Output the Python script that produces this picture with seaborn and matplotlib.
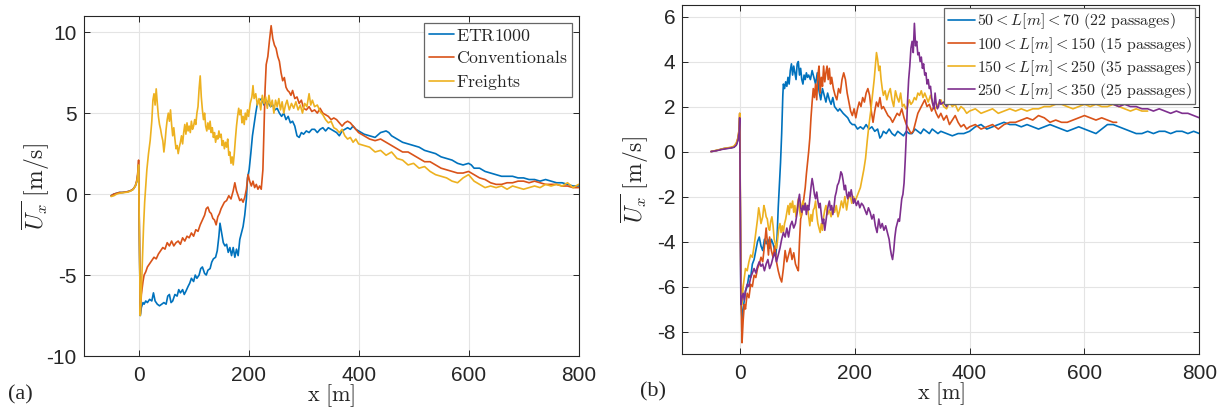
import numpy as np
import pandas as pd
import matplotlib
matplotlib.use("Agg")
import matplotlib.pyplot as plt
import seaborn as sns

# ---------------- data: panel (a) ----------------
pre_x = [-50, -45, -40, -35, -30, -25, -20, -15, -10, -6, -3, -1, 0]

etr_x = pre_x + [3, 5, 8, 10, 13, 16, 20, 24, 27, 30, 34, 38, 42, 46, 50, 53, 56, 59, 62, 66, 70, 73, 76, 80, 83, 86, 90, 93, 96, 100,
                 103, 106, 110, 113, 116, 120, 123, 126, 130, 133, 136, 140, 143, 146, 148, 151, 154, 157, 160, 163, 166, 169, 172, 175,
                 178, 181, 184, 187, 190, 193, 196, 198, 201, 204, 207, 210, 213, 216, 220, 224, 228, 232, 236, 240, 244, 248, 252, 256,
                 260, 264, 268, 272, 276, 280, 284, 288, 292, 296, 300, 305, 310, 315, 320, 325, 330, 335, 340, 345, 350, 355, 360, 365,
                 370, 375, 380, 385, 390, 395, 400, 410, 420, 430, 440, 450, 455, 460, 470, 480, 490, 500, 510, 520, 530, 540, 550, 560,
                 570, 580, 590, 600, 605, 610, 620, 630, 640, 650, 660, 670, 680, 690, 700, 710, 720, 730, 740, 750, 760, 770, 780, 790, 800]
etr_y = [-0.1, 0.0, 0.05, 0.1, 0.1, 0.12, 0.15, 0.2, 0.3, 0.5, 0.8, 1.3, 1.8,
         -7.5, -7.0, -6.7, -6.8, -6.6, -6.7, -6.5, -6.6, -6.1, -6.6, -6.8, -6.9, -6.8, -6.7, -6.8, -6.3, -6.2, -6.7, -6.6, -6.2, -6.3,
         -5.9, -6.1, -5.9, -6.2, -6.0, -5.7, -5.5, -5.2, -5.4, -5.0, -5.2, -5.0, -4.6, -4.5, -4.9, -5.0, -4.7, -4.6, -4.2, -4.0, -3.9,
         -3.5, -2.6, -1.8, -2.4, -3.0, -3.2, -3.1, -3.6, -3.3, -3.8, -3.3, -3.9, -3.4, -3.8, -2.8, -2.4, -2.0, -1.3, -0.3, 1.0, 1.5,
         2.5, 3.6, 4.3, 5.0, 5.6, 5.8, 5.9, 5.5, 5.8, 5.6, 5.4, 5.5, 5.2, 5.3, 5.0, 4.8, 5.0, 4.6, 4.8, 4.4, 4.5, 4.2, 3.6, 3.5, 3.8,
         3.7, 3.9, 3.8, 4.0, 4.0, 3.8, 4.0, 4.1, 3.9, 4.1, 4.0, 3.9, 3.8, 3.6, 3.9, 4.0, 4.1, 4.0, 4.2, 4.0, 3.9, 3.7, 3.6, 3.5, 3.8,
         3.9, 3.8, 3.6, 3.4, 3.2, 3.1, 3.0, 2.9, 2.7, 2.6, 2.5, 2.3, 2.2, 2.1, 1.9, 1.8, 1.9, 1.8, 1.6, 1.6, 1.4, 1.3, 1.2, 1.1, 1.1,
         1.1, 1.0, 1.0, 0.9, 0.9, 0.8, 0.9, 0.8, 0.7, 0.7, 0.6, 0.5, 0.5]

conv_x = pre_x + [3, 5, 8, 10, 13, 16, 20, 24, 28, 32, 36, 40, 44, 48, 52, 56, 60, 64, 68, 72, 76, 80, 84, 88, 92, 96, 100, 104, 108,
                  112, 116, 120, 123, 126, 129, 132, 135, 138, 141, 144, 147, 150, 153, 156, 160, 164, 168, 172, 175, 178, 181, 184,
                  187, 190, 193, 196, 199, 202, 205, 208, 211, 214, 217, 220, 223, 226, 228, 230, 232, 235, 238, 241, 244, 247, 250,
                  253, 256, 259, 262, 265, 268, 271, 274, 277, 280, 284, 288, 292, 296, 300, 305, 310, 315, 320, 325, 330, 335, 340,
                  345, 350, 355, 360, 365, 370, 375, 380, 385, 390, 395, 400, 410, 420, 430, 440, 450, 460, 470, 480, 490, 500, 510,
                  520, 530, 540, 550, 560, 570, 580, 590, 600, 610, 620, 630, 640, 650, 660, 670, 680, 690, 700, 710, 720, 730, 740,
                  750, 760, 770, 780, 790, 800]
conv_y = [-0.1, 0.0, 0.05, 0.1, 0.1, 0.12, 0.15, 0.2, 0.3, 0.5, 0.9, 1.5, 2.1,
          -7.4, -6.2, -5.4, -5.0, -4.8, -4.5, -4.3, -4.1, -3.9, -4.0, -3.7, -3.5, -3.3, -3.4, -3.0, -3.2, -2.9, -3.2, -3.0, -2.9,
          -3.1, -2.7, -2.9, -2.6, -2.7, -2.4, -2.6, -2.2, -2.3, -1.9, -1.6, -1.3, -0.9, -0.8, -1.1, -1.2, -1.5, -1.6, -1.9, -1.4,
          -1.2, -0.9, -0.7, -0.5, -0.4, -0.1, -0.3, 0.2, 0.7, 0.2, -0.1, -0.4, -0.3, -0.5, -0.2, 0.3, 1.2, 0.8, 0.5, 0.8, 0.4, 0.6,
          0.3, 0.5, 0.3, 1.5, 4.0, 6.5, 8.0, 8.5, 9.5, 10.4, 9.6, 9.2, 9.0, 8.5, 8.2, 7.5, 7.0, 7.2, 6.6, 6.4, 6.3, 6.1, 6.4, 5.9,
          6.0, 5.6, 5.8, 5.3, 5.2, 5.4, 5.1, 5.2, 5.0, 5.3, 5.0, 4.9, 4.8, 4.6, 4.7, 4.6, 4.4, 4.2, 4.4, 4.5, 4.4, 4.2, 4.0, 3.8,
          3.6, 3.4, 3.3, 3.4, 3.2, 3.0, 2.8, 2.6, 2.6, 2.4, 2.2, 2.0, 2.0, 1.8, 1.6, 1.5, 1.4, 1.3, 1.3, 1.4, 1.2, 1.0, 0.9, 0.7,
          0.6, 0.6, 0.7, 0.7, 0.8, 0.8, 0.7, 0.8, 0.7, 0.6, 0.6, 0.6, 0.5, 0.5, 0.4, 0.4]

frt_x = pre_x + [3, 5, 7, 9, 11, 13, 15, 18, 21, 24, 26, 28, 30, 32, 34, 36, 38, 40, 42, 44, 46, 48, 50, 52, 54, 56, 58, 60, 62, 64,
                 66, 68, 70, 72, 74, 76, 78, 80, 82, 84, 86, 88, 90, 92, 94, 96, 98, 100, 102, 104, 106, 108, 110, 112, 114, 116,
                 118, 120, 122, 124, 126, 128, 130, 132, 134, 136, 138, 140, 142, 144, 146, 148, 150, 152, 154, 156, 158, 160, 162,
                 164, 166, 168, 170, 172, 174, 176, 178, 180, 182, 184, 186, 188, 190, 192, 194, 196, 198, 200, 203, 206, 208, 210,
                 213, 216, 219, 222, 225, 228, 231, 234, 237, 240, 243, 246, 249, 252, 255, 258, 261, 264, 267, 270, 274, 278, 282,
                 286, 290, 294, 298, 302, 306, 310, 313, 316, 320, 325, 330, 335, 340, 345, 350, 355, 360, 365, 370, 375, 380, 385,
                 390, 395, 400, 410, 420, 430, 440, 450, 460, 470, 480, 490, 500, 510, 520, 530, 540, 550, 560, 570, 580, 590, 600,
                 610, 620, 630, 640, 650, 660, 670, 680, 690, 700, 710, 720, 730, 740, 750, 760, 770, 780, 790, 800]
frt_y = [-0.15, -0.1, 0.0, 0.05, 0.08, 0.1, 0.12, 0.18, 0.28, 0.5, 0.8, 1.3, 1.8,
         -7.5, -6.0, -4.0, -2.0, -0.5, 0.5, 1.5, 2.5, 3.3, 4.5, 5.8, 6.2, 5.5, 6.5, 5.6, 4.8, 4.3, 4.0, 3.6, 3.3, 2.6, 3.2, 4.0,
         4.6, 5.0, 4.5, 5.2, 4.3, 3.6, 4.1, 3.4, 2.8, 3.0, 2.5, 2.9, 3.2, 3.6, 3.1, 3.8, 4.3, 3.7, 4.4, 3.9, 4.2, 3.8, 4.5, 4.0,
         4.2, 4.6, 4.3, 5.0, 5.4, 6.5, 7.3, 6.0, 5.2, 4.6, 5.0, 4.2, 3.9, 4.4, 4.0, 4.5, 3.8, 4.1, 3.5, 3.8, 3.2, 3.6, 3.4, 3.9,
         3.5, 3.7, 3.0, 3.3, 2.8, 3.2, 2.9, 3.4, 2.4, 2.6, 1.9, 2.3, 1.8, 2.5, 3.4, 4.2, 4.8, 5.3, 4.9, 5.2, 4.4, 4.8, 4.3, 5.0,
         4.6, 5.2, 4.8, 5.6, 6.0, 6.7, 5.9, 6.2, 5.5, 5.9, 5.2, 6.1, 5.6, 6.0, 5.3, 6.1, 5.4, 5.8, 5.0, 5.8, 5.4, 5.9, 5.2, 5.7,
         5.0, 5.5, 5.8, 5.2, 5.6, 5.3, 5.7, 5.2, 5.5, 5.0, 5.6, 5.4, 6.2, 5.5, 5.8, 5.4, 5.5, 5.1, 4.9, 4.6, 4.4, 4.5, 4.1, 4.0,
         3.8, 4.0, 3.6, 3.4, 3.5, 3.2, 3.4, 3.1, 3.0, 2.9, 2.6, 2.7, 2.4, 2.6, 2.2, 2.1, 1.8, 1.9, 1.6, 1.7, 1.4, 1.2, 1.1, 1.0,
         0.8, 0.7, 1.0, 1.2, 0.8, 0.6, 0.4, 0.5, 0.4, 0.5, 0.3, 0.5, 0.4, 0.3, 0.4, 0.5, 0.4, 0.6, 0.5, 0.6, 0.5, 0.7, 0.4, 0.6]

labels_a = ["ETR1000", "Conventionals", "Freights"]

# ---------------- data: panel (b) ----------------
preb_x = [-50, -45, -40, -35, -30, -25, -20, -15, -10, -6, -3, -1, 0]

l1_x = preb_x + [2, 4, 7, 10, 13, 16, 19, 22, 25, 28, 31, 34, 37, 40, 43, 46, 49, 52, 55, 58, 61, 63, 65, 67, 69, 71, 73, 75, 76,
                 78, 80, 82, 84, 86, 88, 90, 92, 94, 96, 98, 100, 102, 104, 106, 108, 110, 112, 114, 116, 118, 120, 123, 126, 129,
                 132, 135, 138, 141, 144, 147, 150, 153, 156, 159, 162, 165, 168, 171, 174, 177, 180, 184, 188, 192, 196, 200, 205,
                 210, 215, 220, 225, 230, 235, 240, 244, 247, 250, 255, 260, 265, 270, 275, 280, 285, 290, 295, 300, 305, 310, 315,
                 320, 325, 330, 335, 340, 345, 350, 360, 370, 380, 390, 400, 410, 420, 430, 440, 450, 460, 470, 480, 490, 500, 510,
                 520, 530, 540, 550, 560, 570, 580, 590, 600, 610, 620, 630, 640, 650, 660, 670, 680, 690, 700, 710, 720, 730, 740,
                 750, 760, 770, 780, 790, 800]
l1_y = [0.0, 0.02, 0.05, 0.08, 0.12, 0.14, 0.15, 0.17, 0.2, 0.3, 0.55, 0.9, 1.5,
        -6.5, -7.5, -6.8, -6.2, -6.0, -5.5, -5.6, -5.0, -4.8, -4.4, -4.0, -3.8, -4.2, -4.4, -3.9, -4.1, -3.9, -4.3, -3.9, -4.1,
        -4.4, -4.6, -3.8, -2.5, -1.5, -0.5, 0.8, 2.5, 3.0, 2.8, 3.1, 2.9, 3.3, 3.0, 3.6, 3.9, 3.4, 3.8, 3.5, 3.2, 3.9, 4.0, 3.4,
        3.7, 3.2, 3.0, 3.4, 3.2, 3.5, 3.3, 3.4, 3.2, 3.6, 3.3, 3.0, 3.5, 2.7, 2.3, 2.8, 2.5, 2.2, 2.6, 2.3, 2.1, 2.4, 2.0, 1.9,
        1.8, 1.9, 1.8, 1.7, 1.6, 1.5, 1.3, 1.2, 1.2, 1.0, 1.1, 1.0, 1.2, 1.0, 1.1, 0.9, 1.0, 0.6, 0.7, 0.9, 0.8, 1.0, 0.8, 0.7,
        0.9, 0.8, 0.7, 0.9, 0.8, 0.8, 1.0, 0.9, 0.8, 1.0, 0.9, 0.8, 1.0, 0.9, 0.8, 0.9, 0.8, 0.7, 0.8, 0.8, 0.9, 1.1, 1.2, 1.0,
        1.1, 1.2, 1.3, 1.2, 1.2, 1.1, 1.2, 1.1, 1.0, 1.1, 1.2, 1.1, 1.0, 0.9, 1.0, 1.1, 1.0, 0.9, 0.8, 1.0, 1.2, 1.2, 1.1, 1.0,
        0.9, 0.8, 0.8, 0.9, 0.8, 0.9, 0.9, 0.8, 0.9, 0.9, 0.8, 0.9, 0.8]

l2_x = preb_x + [2, 4, 6, 8, 10, 13, 16, 19, 22, 25, 28, 31, 34, 37, 40, 43, 46, 48, 50, 52, 55, 58, 61, 64, 67, 70, 73, 76, 79,
                 82, 85, 88, 91, 94, 97, 100, 102, 104, 106, 108, 110, 112, 114, 116, 118, 120, 122, 124, 126, 128, 130, 132, 134,
                 136, 138, 140, 142, 144, 146, 148, 150, 152, 154, 156, 158, 160, 163, 166, 169, 172, 175, 178, 181, 184, 187, 190,
                 193, 196, 199, 202, 205, 208, 211, 214, 217, 220, 223, 226, 229, 232, 235, 238, 241, 244, 247, 250, 254, 258, 262,
                 266, 270, 274, 278, 282, 286, 290, 294, 298, 302, 306, 310, 314, 318, 322, 326, 330, 334, 338, 342, 346, 350, 355,
                 360, 365, 370, 375, 380, 385, 390, 395, 400, 410, 420, 430, 440, 450, 460, 470, 480, 490, 500, 510, 520, 530, 540,
                 550, 560, 570, 580, 590, 600, 610, 620, 630, 640, 650, 656]
l2_y = [0.0, 0.02, 0.05, 0.08, 0.12, 0.14, 0.16, 0.18, 0.22, 0.35, 0.6, 1.0, 1.7,
        -6.0, -8.5, -7.5, -6.8, -7.0, -6.3, -6.5, -5.9, -6.0, -5.5, -5.6, -5.2, -5.0, -4.7, -4.9, -4.2, -3.4, -4.0, -4.6, -3.8,
        -4.4, -4.7, -4.2, -4.9, -5.3, -5.6, -5.8, -5.2, -4.4, -4.9, -4.6, -4.3, -4.8, -4.5, -5.0, -5.2, -5.3, -4.0, -3.0, -2.8,
        -2.4, -2.0, -1.6, -1.0, -0.5, 0.0, 0.6, 1.5, 2.2, 2.8, 2.4, 3.0, 2.3, 3.4, 3.8, 2.6, 3.3, 2.9, 3.8, 3.1, 3.5, 3.8, 3.2,
        3.7, 3.0, 3.3, 2.8, 2.5, 2.3, 2.8, 2.6, 3.2, 3.5, 3.2, 2.6, 2.2, 1.8, 1.6, 1.9, 1.5, 1.9, 2.2, 2.0, 2.4, 2.2, 2.6, 2.8,
        2.5, 1.8, 1.3, 1.8, 2.2, 2.0, 2.4, 1.9, 2.0, 1.8, 1.6, 1.5, 1.3, 1.5, 1.7, 1.6, 1.9, 1.5, 1.2, 1.0, 0.8, 0.9, 1.3, 1.7,
        1.9, 2.1, 2.3, 2.0, 2.1, 1.8, 2.0, 1.7, 1.5, 1.7, 1.4, 1.6, 1.2, 1.4, 1.6, 1.3, 1.1, 1.2, 1.0, 1.1, 1.2, 1.0, 1.1, 1.2,
        1.0, 1.2, 1.3, 1.3, 1.4, 1.5, 1.4, 1.6, 1.5, 1.3, 1.4, 1.3, 1.3, 1.4, 1.5, 1.6, 1.5, 1.4, 1.5, 1.4, 1.3, 1.3]

l3_x = preb_x + [2, 4, 6, 8, 10, 13, 16, 19, 22, 25, 28, 31, 33, 35, 37, 40, 42, 44, 46, 48, 50, 52, 54, 56, 58, 60, 62, 64, 66,
                 68, 70, 72, 74, 76, 78, 80, 82, 84, 86, 88, 90, 92, 94, 96, 98, 100, 102, 104, 106, 108, 110, 112, 114, 116, 118,
                 120, 122, 124, 126, 128, 130, 132, 134, 136, 138, 140, 142, 144, 146, 148, 150, 153, 156, 159, 162, 165, 168, 171,
                 174, 177, 180, 183, 186, 189, 192, 195, 198, 201, 204, 207, 210, 213, 216, 219, 222, 225, 228, 231, 234, 236, 238,
                 240, 242, 244, 246, 248, 250, 253, 256, 259, 262, 265, 268, 271, 274, 277, 280, 283, 286, 289, 292, 295, 298, 301,
                 304, 307, 310, 313, 316, 319, 322, 325, 328, 332, 336, 340, 345, 350, 355, 360, 365, 370, 375, 380, 385, 390, 395,
                 400, 410, 420, 430, 440, 450, 460, 470, 480, 490, 500, 510, 520, 530, 540, 550, 560, 570, 580, 590, 600, 610, 620,
                 630, 640, 650, 660, 670, 680, 690, 700, 710]
l3_y = [0.0, 0.03, 0.06, 0.09, 0.12, 0.15, 0.17, 0.19, 0.24, 0.38, 0.62, 1.0, 1.7,
        -5.5, -6.8, -6.0, -5.6, -5.2, -5.3, -4.9, -4.6, -4.7, -4.2, -3.6, -3.0, -2.5, -2.8, -3.2, -2.9, -2.4, -2.6, -2.9, -3.0,
        -3.4, -3.5, -3.1, -2.9, -3.3, -3.9, -4.1, -4.3, -3.9, -3.4, -3.2, -3.6, -3.3, -3.6, -3.2, -3.0, -2.7, -2.4, -2.8, -2.3,
        -2.5, -2.2, -2.7, -2.4, -2.9, -2.5, -2.1, -2.6, -2.9, -2.4, -2.2, -2.5, -2.3, -2.6, -2.4, -2.9, -3.3, -2.8, -3.1, -2.6,
        -2.5, -2.2, -2.8, -3.2, -3.4, -3.6, -3.2, -3.5, -2.9, -2.6, -2.4, -2.8, -2.6, -2.9, -2.5, -2.7, -2.4, -2.9, -2.6, -2.2,
        -2.5, -2.0, -2.6, -2.1, -1.9, -2.3, -2.0, -2.2, -2.0, -1.8, -1.6, -1.2, -0.8, -0.3, 0.5, 1.2, 1.8, 2.5, 3.2, 3.8, 4.4,
        4.1, 3.6, 3.8, 3.2, 2.8, 2.5, 2.7, 2.3, 2.6, 2.8, 2.3, 2.0, 2.7, 2.4, 2.2, 2.6, 2.0, 2.1, 1.9, 2.0, 2.3, 2.1, 2.2, 2.4,
        2.3, 2.6, 2.5, 2.7, 2.4, 2.6, 2.4, 2.2, 2.5, 2.1, 1.9, 2.1, 2.3, 2.0, 1.9, 2.2, 2.0, 2.1, 1.8, 2.0, 1.9, 1.7, 1.8, 1.9,
        1.7, 1.8, 1.9, 1.7, 1.8, 1.9, 1.8, 1.9, 1.8, 1.9, 1.9, 2.0, 2.0, 2.1, 2.1, 2.0, 1.9, 2.0, 2.1, 2.0, 2.1, 2.0, 2.0, 2.1,
        2.0, 1.9, 1.8, 1.9, 1.8, 1.8]

l4_x = preb_x + [2, 4, 6, 8, 10, 13, 16, 19, 22, 25, 28, 31, 34, 37, 40, 43, 46, 49, 52, 55, 58, 61, 64, 67, 70, 73, 76, 79, 82,
                 85, 88, 91, 94, 97, 100, 102, 104, 106, 108, 110, 112, 114, 116, 118, 120, 122, 124, 126, 128, 130, 132, 134, 136,
                 138, 140, 142, 144, 146, 148, 150, 152, 154, 156, 158, 160, 162, 164, 166, 168, 170, 172, 174, 176, 178, 180, 182,
                 184, 186, 188, 190, 192, 194, 196, 198, 200, 203, 206, 209, 212, 215, 218, 221, 224, 227, 230, 233, 236, 239, 242,
                 245, 248, 251, 254, 257, 260, 262, 264, 266, 268, 270, 272, 274, 276, 278, 280, 282, 284, 286, 288, 290, 292, 294,
                 296, 298, 300, 302, 304, 306, 308, 310, 312, 314, 316, 318, 320, 322, 324, 326, 328, 330, 332, 334, 336, 338, 340,
                 342, 344, 346, 348, 350, 355, 360, 365, 370, 375, 380, 385, 390, 395, 400, 410, 420, 430, 440, 450, 460, 470, 480,
                 490, 500, 510, 520, 530, 540, 550, 560, 570, 580, 590, 600, 610, 620, 630, 640, 650, 660, 670, 680, 690, 700, 710,
                 720, 730, 740, 750, 760, 770, 780, 790, 800]
l4_y = [0.0, 0.02, 0.04, 0.07, 0.1, 0.12, 0.14, 0.16, 0.19, 0.28, 0.5, 0.85, 1.5,
        -6.8, -6.5, -6.3, -6.6, -6.2, -5.9, -6.0, -5.6, -5.4, -5.2, -5.4, -5.1, -4.9, -5.1, -5.0, -5.3, -5.0, -4.8, -5.2, -5.0,
        -4.7, -4.5, -4.9, -4.6, -4.3, -3.9, -3.6, -3.8, -3.4, -3.8, -3.3, -3.1, -3.4, -3.2, -2.7, -2.2, -1.9, -2.5, -2.7, -2.4,
        -2.6, -2.3, -2.8, -2.4, -2.6, -2.1, -1.6, -1.2, -1.5, -1.9, -2.1, -1.8, -2.2, -2.5, -2.3, -2.8, -3.2, -3.0, -3.5, -3.1,
        -2.7, -2.4, -2.2, -2.6, -2.4, -2.8, -2.5, -2.0, -1.8, -1.5, -1.4, -1.2, -0.9, -1.0, -1.3, -1.7, -1.5, -1.9, -2.1, -1.8,
        -2.0, -1.7, -2.0, -2.3, -2.1, -2.4, -2.2, -2.5, -2.3, -2.4, -2.6, -2.8, -2.5, -2.7, -3.0, -2.8, -3.3, -3.6, -3.0, -3.4,
        -3.2, -3.5, -3.3, -3.6, -3.9, -4.3, -4.6, -4.8, -4.4, -3.8, -3.4, -3.2, -3.0, -3.1, -2.6, -2.1, -1.9, -1.4, -0.4, 0.8,
        2.2, 3.2, 3.8, 4.6, 4.9, 4.4, 5.7, 4.7, 4.9, 4.3, 4.4, 4.0, 4.2, 3.7, 3.9, 3.4, 3.5, 3.0, 3.2, 2.8, 2.9, 2.4, 2.1, 1.9,
        2.6, 2.1, 1.9, 2.0, 2.3, 2.1, 2.2, 2.0, 2.4, 2.2, 2.3, 2.1, 2.4, 2.2, 2.5, 2.3, 2.4, 2.3, 2.6, 2.4, 2.6, 2.5, 2.3, 2.5,
        2.4, 2.3, 2.5, 2.4, 2.5, 2.6, 2.5, 2.6, 2.7, 2.6, 2.5, 2.4, 2.3, 2.2, 2.3, 2.2, 2.1, 2.0, 2.1, 2.0, 2.0, 1.9, 1.9, 1.8,
        1.9, 1.8, 1.7, 1.8, 1.7, 1.7, 1.6, 1.5]

labels_b = [r"$50 < L[m] < 70\ \mathrm{(22\ passages)}$",
            r"$100 < L[m] < 150\ \mathrm{(15\ passages)}$",
            r"$150 < L[m] < 250\ \mathrm{(35\ passages)}$",
            r"$250 < L[m] < 350\ \mathrm{(25\ passages)}$"]

colors = ["#0072BD", "#D95319", "#EDB120", "#7E2F8E"]

# ---------------- style ----------------
sns.set_theme(style="whitegrid")
plt.rcParams["font.family"] = ["Liberation Sans", "DejaVu Sans"]
plt.rcParams["mathtext.fontset"] = "cm"
plt.rcParams["axes.unicode_minus"] = False

fig = plt.figure(figsize=(12.26, 4.11), dpi=100)
fig.patch.set_facecolor("white")
ax1 = fig.add_axes([0.0682, 0.1338, 0.4037, 0.8273])
ax2 = fig.add_axes([0.5565, 0.1387, 0.4218, 0.8483])


def style_axes(ax):
    ax.set_facecolor("white")
    ax.grid(True, color="#e4e4e4", linewidth=0.8)
    for s in ax.spines.values():
        s.set_visible(True)
        s.set_color("#262626")
        s.set_linewidth(0.8)
    ax.tick_params(axis="both", which="both", direction="in", length=4, width=0.7,
                   top=True, right=True, bottom=True, left=True, labelsize=15, colors="#262626")
    ax.tick_params(axis="x", pad=7)
    ax.tick_params(axis="y", pad=5)


series_a = [(etr_x, etr_y), (conv_x, conv_y), (frt_x, frt_y)]
for (xs, ys), lab, c in zip(series_a, labels_a, colors):
    sns.lineplot(x=xs, y=ys, ax=ax1, sort=False, estimator=None, color=c, linewidth=1.2,
                 label=r"$\mathrm{" + lab + "}$")

series_b = [(l1_x, l1_y), (l2_x, l2_y), (l3_x, l3_y), (l4_x, l4_y)]
for (xs, ys), lab, c in zip(series_b, labels_b, colors):
    sns.lineplot(x=xs, y=ys, ax=ax2, sort=False, estimator=None, color=c, linewidth=1.2, label=lab)

for ax in (ax1, ax2):
    style_axes(ax)
    ax.set_xlim(-100, 800)
    ax.set_xticks([0, 200, 400, 600, 800])

ax1.set_ylim(-10, 11)
ax1.set_yticks([-10, -5, 0, 5, 10])
ax2.set_ylim(-9, 6.5)
ax2.set_yticks([-8, -6, -4, -2, 0, 2, 4, 6])

for ax in (ax1, ax2):
    ax.set_xlabel(r"$\mathrm{x\ [m]}$", fontsize=16, labelpad=-2, color="#262626")
    ax.set_ylabel(r"$\overline{U_x}\ [\mathrm{m/s}]$", fontsize=17, color="#262626")
ax1.yaxis.set_label_coords(-0.063, 0.5)
ax2.yaxis.set_label_coords(-0.0605, 0.5)

leg1 = ax1.legend(loc="upper right", bbox_to_anchor=(0.987, 0.979), borderaxespad=0,
                  fontsize=12.8, frameon=True, fancybox=False, framealpha=1, edgecolor="#666666",
                  handlelength=1.4, handletextpad=0.15, borderpad=0.25, labelspacing=0.3)
leg1.get_frame().set_linewidth(0.9)
leg2 = ax2.legend(loc="upper right", bbox_to_anchor=(0.9915, 0.992), borderaxespad=0,
                  fontsize=11.5, frameon=True, fancybox=False, framealpha=1, edgecolor="#666666",
                  handlelength=1.7, handletextpad=0.15, borderpad=0.2, labelspacing=0.2)
leg2.get_frame().set_linewidth(0.9)

fig.text(0.0065, 0.029, "(a)", fontsize=16, family=["Liberation Serif", "DejaVu Serif"], color="#262626")
fig.text(0.522, 0.036, "(b)", fontsize=16, family=["Liberation Serif", "DejaVu Serif"], color="#262626")

fig.savefig("out.png", dpi=100, facecolor="white")
